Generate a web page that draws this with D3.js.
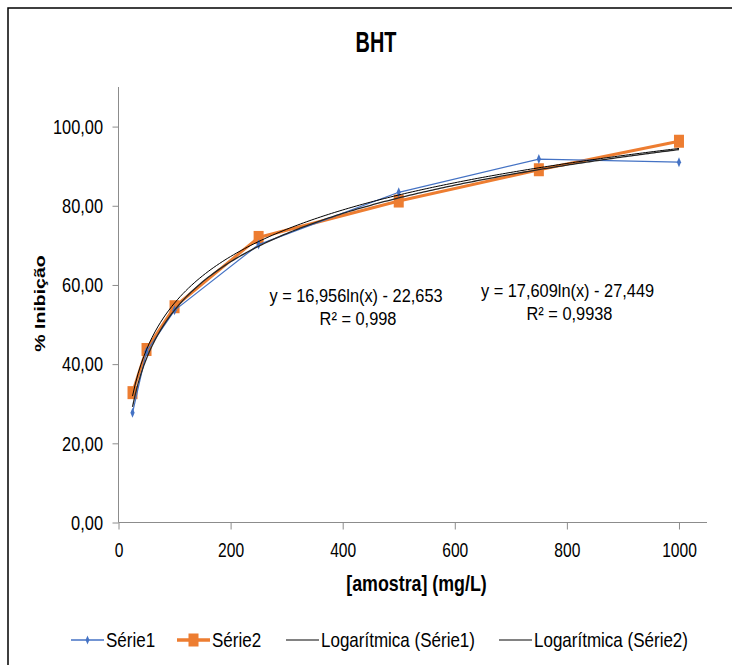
<!DOCTYPE html>
<html>
<head>
<meta charset="utf-8">
<script src="https://cdn.jsdelivr.net/npm/d3@7"></script>
<style>
  body { margin: 0; background: #fff; }
  svg text { font-family: "Liberation Sans", Arial, sans-serif; fill: #000; }
</style>
</head>
<body>
<svg width="732" height="665"></svg>
<script>
const concentrations = [25, 50, 100, 250, 500, 750, 1000];
const serie1 = [27.7, 43.2, 53.6, 70.2, 83.4, 91.8, 91.0];
const serie2 = [32.8, 43.7, 54.5, 72.0, 81.2, 89.1, 96.3];
// coefficients shown on the chart: y = a ln(x) + b
const trend1 = { a: 17.609, b: -27.449 };
const trend2 = { a: 16.956, b: -22.653 };
const xTicks = [0, 200, 400, 600, 800, 1000];
const yTicks = [0, 20, 40, 60, 80, 100];

const svg = d3.select('svg');

// text in the picture is narrow, so squeeze it horizontally
const addText = (x, y, str, size, k, anchor = 'middle', bold = false) =>
  svg.append('text')
    .attr('transform', `translate(${x},${y}) scale(${k},1)`)
    .attr('text-anchor', anchor)
    .attr('font-size', size)
    .attr('font-weight', bold ? 'bold' : null)
    .text(str);

// outer frame
svg.append('rect')
  .attr('x', 8).attr('y', 8)
  .attr('width', 740).attr('height', 680)
  .attr('fill', 'none').attr('stroke', '#000').attr('stroke-width', 1.5);

const xScale = d3.scaleLinear().domain([0, 1050]).range([118.5, 707]);
const yScale = d3.scaleLinear().domain([0, 110]).range([522.5, 87]);

// y axis
const ky = 0.78;
const yAxisG = svg.append('g')
  .attr('transform', `translate(${xScale(0)},0)`)
  .call(d3.axisLeft(yScale).tickValues(yTicks).tickSize(6).tickPadding(9.5)
    .tickFormat(d => d3.format('.2f')(d).replace('.', ',')));
yAxisG.select('.domain').attr('stroke', '#8c8c8c').attr('d', `M0,${yScale(110)}V${yScale(0)}`);
yAxisG.selectAll('.tick line').attr('stroke', '#8c8c8c');
yAxisG.selectAll('.tick text')
  .attr('font-size', 21).attr('font-family', null)
  .attr('x', -15.5 / ky).attr('transform', `scale(${ky},1)`);

// x axis
const kx = 0.78;
const xAxisG = svg.append('g')
  .attr('transform', `translate(0,${yScale(0)})`)
  .call(d3.axisBottom(xScale).tickValues(xTicks).tickSize(7).tickPadding(13.8).tickFormat(d3.format('d')));
xAxisG.select('.domain').attr('stroke', '#8c8c8c').attr('d', `M${xScale(0)},0H${xScale(1050)}`);
xAxisG.selectAll('.tick line').attr('stroke', '#8c8c8c');
xAxisG.selectAll('.tick text')
  .attr('font-size', 20).attr('font-family', null)
  .attr('transform', `scale(${kx},1)`);

// title and axis labels
addText(376, 52.3, 'BHT', 28.8, 0.69, 'middle', true);
addText(416.5, 591, '[amostra] (mg/L)', 22, 0.81, 'middle', true);
svg.append('text')
  .attr('transform', `translate(44.5,303.5) scale(0.76,1) rotate(-90)`)
  .attr('text-anchor', 'middle')
  .attr('font-size', 19.5).attr('font-weight', 'bold')
  .text('% Inibição');

// trendlines sampled along the fitted log curve
const trendPoints = t => d3.range(25, 1001, 5).map(x => [x, t.a * Math.log(x) + t.b]);
const line = d3.line().x(d => xScale(d[0])).y(d => yScale(d[1]));

// series 2 (orange)
const s2 = concentrations.map((x, i) => [x, serie2[i]]);
svg.append('path').datum(s2)
  .attr('d', line).attr('fill', 'none')
  .attr('stroke', '#ED7D31').attr('stroke-width', 3);
svg.selectAll('rect.s2').data(s2).enter().append('rect')
  .attr('class', 's2')
  .attr('x', d => xScale(d[0]) - 5).attr('y', d => yScale(d[1]) - 6.5)
  .attr('width', 10).attr('height', 13)
  .attr('fill', '#ED7D31');

// series 1 (blue)
const s1 = concentrations.map((x, i) => [x, serie1[i]]);
svg.append('path').datum(s1)
  .attr('d', line).attr('fill', 'none')
  .attr('stroke', '#4472C4').attr('stroke-width', 1.2);
svg.selectAll('path.s1').data(s1).enter().append('path')
  .attr('class', 's1')
  .attr('transform', d => `translate(${xScale(d[0])},${yScale(d[1])}) scale(0.8,1.1)`)
  .attr('d', d3.symbol().type(d3.symbolDiamond).size(24))
  .attr('fill', '#4472C4');

svg.append('path').datum(trendPoints(trend1))
  .attr('d', line).attr('fill', 'none')
  .attr('stroke', '#262626').attr('stroke-width', 1.3);
svg.append('path').datum(trendPoints(trend2))
  .attr('d', line).attr('fill', 'none')
  .attr('stroke', '#000').attr('stroke-width', 1);

// equation labels
const eq = [
  { x: 356, y: 301.7, lines: ['y = 16,956ln(x) - 22,653', 'R² = 0,998'] },
  { x: 567.5, y: 296.5, lines: ['y = 17,609ln(x) - 27,449', 'R² = 0,9938'] }
];
eq.forEach(e => {
  e.lines.forEach((t, i) => addText(e.x + i * 2, e.y + i * 23.5, t, 18.6, 0.88));
});

// legend
const legend = [
  { label: 'Série1', x: 71, color: '#4472C4', w: 1.5, marker: 'diamond' },
  { label: 'Série2', x: 177, color: '#ED7D31', w: 3.5, marker: 'square' },
  { label: 'Logarítmica (Série1)', x: 286, color: '#595959', w: 1.5 },
  { label: 'Logarítmica (Série2)', x: 499, color: '#595959', w: 1.5 }
];
const ly = 640;
legend.forEach(l => {
  const len = 33;
  svg.append('line')
    .attr('x1', l.x).attr('x2', l.x + len)
    .attr('y1', ly).attr('y2', ly)
    .attr('stroke', l.color).attr('stroke-width', l.w);
  if (l.marker === 'diamond') {
    svg.append('path')
      .attr('transform', `translate(${l.x + len / 2},${ly}) scale(0.8,1.1)`)
      .attr('d', d3.symbol().type(d3.symbolDiamond).size(20))
      .attr('fill', l.color);
  } else if (l.marker === 'square') {
    svg.append('rect')
      .attr('x', l.x + len / 2 - 5).attr('y', ly - 6.5)
      .attr('width', 10).attr('height', 13)
      .attr('fill', l.color);
  }
  addText(l.x + len + 2, 646.7, l.label, 21, 0.81, 'start');
});
</script>
</body>
</html>
